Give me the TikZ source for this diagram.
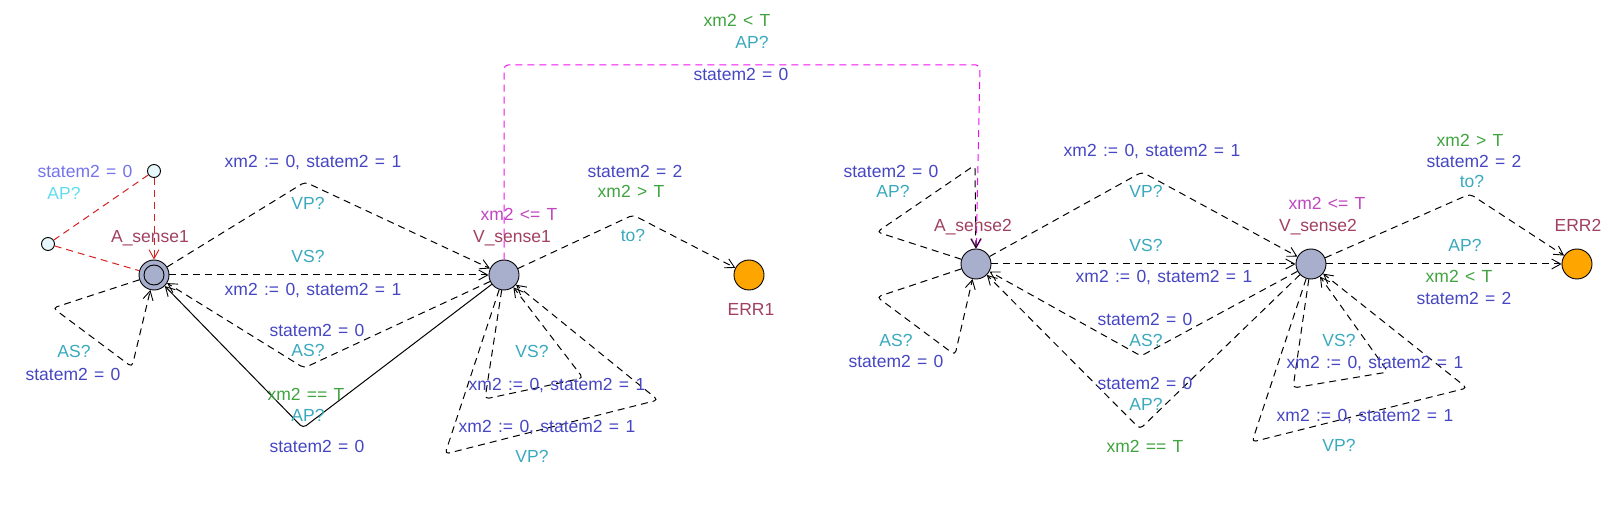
\documentclass[tikz,border=0pt]{standalone}
\usepackage{fontspec}
\setmainfont{Liberation Sans}[WordSpace=1.3]
\usepackage{xcolor}
\usepackage{tikz}
\usetikzlibrary{arrows.meta}
\definecolor{asgc}{HTML}{4646C3}
\definecolor{grdc}{HTML}{3FA33F}
\definecolor{sync}{HTML}{3AA9BE}
\definecolor{invc}{HTML}{BF46BF}
\definecolor{namc}{HTML}{A1405F}
\definecolor{asglc}{HTML}{7373EE}
\definecolor{synlc}{HTML}{5FDDEF}
\definecolor{locfill}{HTML}{A8AFCD}
\definecolor{errfill}{HTML}{FFA500}
\definecolor{prefill}{HTML}{E6F8FC}
\definecolor{redc}{HTML}{D42020}
\definecolor{magc}{HTML}{F010F0}

\begin{document}
\begin{tikzpicture}[x=1pt,y=-1pt,font=\fontsize{17.5}{20}\selectfont,
	loc/.style={circle,draw,fill=locfill,minimum size=30pt,inner sep=0pt,line width=0.9pt},
	initloc/.style={path picture={\draw[line width=0.9pt] (path picture bounding box.center) circle (10pt);}},
	pre/.style={circle,draw,fill=prefill,minimum size=13pt,inner sep=0pt,line width=0.9pt},
	tr/.style={line width=1pt,dash pattern=on 7pt off 5pt,rounded corners=4pt,-{Straight Barb[length=9pt,width=10pt,line width=0.9pt]}},
	lab/.style={inner sep=0pt,text height=12pt,text depth=0pt},
	asg/.style={lab,text=asgc},
	grd/.style={lab,text=grdc},
	syn/.style={lab,text=sync},
	inv/.style={lab,text=invc},
	nam/.style={lab,text=namc}]
		\useasboundingbox (0,0) rectangle (1618,510);
		\node[loc,initloc] (A1) at (154,275) {};
		\node[loc] (V1) at (504,275) {};
		\node[loc,fill=errfill] (E1) at (749,275) {};
		\node[loc] (A2) at (976,264) {};
		\node[loc] (V2) at (1311,264) {};
		\node[loc,fill=errfill] (E2) at (1577,264) {};
		\node[pre] (p1) at (154,171) {};
		\node[pre] (p2) at (48,244) {};
		\draw[tr,redc,-] (p1) -- (p2);
		\draw[tr,redc,-] (p2) -- (A1);
		\draw[tr,redc] (p1) -- (A1);
		\draw[tr] (A1) -- (305,182) -- (V1);
		\draw[tr] (A1) -- (V1);
		\draw[tr] (V1) -- (304,368) -- (A1);
		\draw[tr,solid] (V1) -- (303,428) -- (A1);
		\draw[tr] (A1) -- (53,308) -- (132,367) -- (A1);
		\draw[tr] (V1) -- (633,215) -- (E1);
		\draw[tr] (V1) -- (485,399) -- (583,378) -- (V1);
		\draw[tr] (V1) -- (445,454) -- (658,400) -- (V1);
		\draw[tr,magc] (V1) -- (504,65) -- (980,65) -- (A2);
		\draw[tr] (A2) -- (877,232) -- (975,165) -- (A2);
		\draw[tr] (A2) -- (877,297) -- (955,355) -- (A2);
		\draw[tr] (A2) -- (1142,172) -- (V2);
		\draw[tr] (A2) -- (V2);
		\draw[tr] (V2) -- (1141,356) -- (A2);
		\draw[tr] (V2) -- (1140,429) -- (A2);
		\draw[tr] (V2) -- (1470,194) -- (E2);
		\draw[tr] (V2) -- (E2);
		\draw[tr] (V2) -- (1293,388) -- (1388,372) -- (V2);
		\draw[tr] (V2) -- (1252,442) -- (1467,388) -- (V2);
		\node[nam] (n1) at (150,237) {A\_sense1};
		\node[lab,text=asglc] (l1) at (85,172) {statem2 = 0};
		\node[lab,text=synlc] (l2) at (64,194) {AP?};
		\node[asg] (l3) at (313,162) {xm2 := 0, statem2 = 1};
		\node[syn] (l4) at (308,204) {VP?};
		\node[syn] (l5) at (308,257) {VS?};
		\node[asg] (l6) at (313,290) {xm2 := 0, statem2 = 1};
		\node[asg] (l7) at (317,331) {statem2 = 0};
		\node[syn] (l8) at (308,351) {AS?};
		\node[grd] (l9) at (306,395) {xm2 == T};
		\node[syn] (l10) at (308,416) {AP?};
		\node[asg] (l11) at (317,447) {statem2 = 0};
		\node[syn] (l12) at (74,352) {AS?};
		\node[asg] (l13) at (73,375) {statem2 = 0};
		\node[inv] (l14) at (519,215) {xm2 <= T};
		\node[nam] (n2) at (512,237) {V\_sense1};
		\node[asg] (l15) at (635,172) {statem2 = 2};
		\node[grd] (l16) at (631,192) {xm2 > T};
		\node[syn] (l17) at (633,236) {to?};
		\node[nam] (n3) at (751,310) {ERR1};
		\node[syn] (l18) at (532,352) {VS?};
		\node[asg] (l19) at (557,385) {xm2 := 0, statem2 = 1};
		\node[asg] (l20) at (547,427) {xm2 := 0, statem2 = 1};
		\node[syn] (l21) at (532,457) {VP?};
		\node[grd] (l22) at (737,21) {xm2 < T};
		\node[syn] (l23) at (752,43) {AP?};
		\node[asg] (l24) at (741,75) {statem2 = 0};
		\node[nam] (n4) at (973,226) {A\_sense2};
		\node[asg] (l25) at (891,172) {statem2 = 0};
		\node[syn] (l26) at (893,192) {AP?};
		\node[syn] (l27) at (896,341) {AS?};
		\node[asg] (l28) at (896,362) {statem2 = 0};
		\node[asg] (l29) at (1152,151) {xm2 := 0, statem2 = 1};
		\node[syn] (l30) at (1146,192) {VP?};
		\node[syn] (l31) at (1146,246) {VS?};
		\node[asg] (l32) at (1164,277) {xm2 := 0, statem2 = 1};
		\node[asg] (l33) at (1145,320) {statem2 = 0};
		\node[syn] (l34) at (1146,341) {AS?};
		\node[asg] (l35) at (1145,384) {statem2 = 0};
		\node[syn] (l36) at (1146,405) {AP?};
		\node[grd] (l37) at (1145,447) {xm2 == T};
		\node[inv] (l38) at (1327,204) {xm2 <= T};
		\node[nam] (n5) at (1318,226) {V\_sense2};
		\node[grd] (l39) at (1470,141) {xm2 > T};
		\node[asg] (l40) at (1474,162) {statem2 = 2};
		\node[syn] (l41) at (1472,182) {to?};
		\node[syn] (l42) at (1465,246) {AP?};
		\node[grd] (l43) at (1459,277) {xm2 < T};
		\node[asg] (l44) at (1464,299) {statem2 = 2};
		\node[nam] (n6) at (1578,226) {ERR2};
		\node[syn] (l45) at (1339,341) {VS?};
		\node[asg] (l46) at (1375,363) {xm2 := 0, statem2 = 1};
		\node[asg] (l47) at (1365,416) {xm2 := 0, statem2 = 1};
		\node[syn] (l48) at (1339,446) {VP?};
\end{tikzpicture}
\end{document}
